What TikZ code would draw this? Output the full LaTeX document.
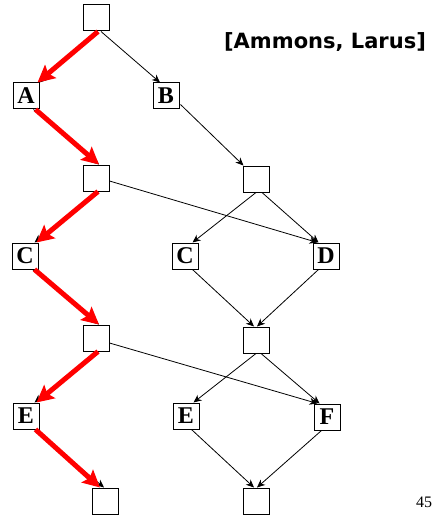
\documentclass[tikz,border=0pt]{standalone}
\usepackage{fontspec}
\setmainfont{Liberation Serif}
\newfontfamily\citefont{DejaVu Sans}
\usetikzlibrary{arrows.meta}
\begin{document}
\begin{tikzpicture}[x=1pt,y=-1pt,
  box/.style={draw,line width=1pt,minimum size=26pt,inner sep=0pt,
    font=\fontsize{24}{24}\selectfont\bfseries},
  edge/.style={line width=0.8pt,-{Stealth[length=8pt,width=7pt,inset=2.5pt]}},
  path/.style={line width=5pt,red,-{Stealth[length=17pt,width=17pt,inset=3pt]}}]
\useasboundingbox (0,0) rectangle (432,516);
% left column (the path)
\node[box] (t)  at (96,18) {};
\node[box] (a)  at (26,96) {A};
\node[box] (l2) at (96,178) {};
\node[box] (cl) at (25,256) {C};
\node[box] (l3) at (96,338) {};
\node[box] (el) at (26,416) {E};
\node[box] (l4) at (105,501) {};
% right column
\node[box] (b)  at (166,96) {B};
\node[box] (r2) at (256,179) {};
\node[box] (cr) at (185,256) {C};
\node[box] (d)  at (326,256) {D};
\node[box] (r3) at (256,340) {};
\node[box] (er) at (186,416) {E};
\node[box] (f)  at (327,417) {F};
\node[box] (r4) at (256,501) {};
% labels
\node[font=\citefont\fontsize{21}{21}\selectfont\bfseries] (cite) at (325,42) {[Ammons, Larus]};
\node[font=\fontsize{16}{16}\selectfont] (pg) at (424,502) {45};
% thin edges
\draw[edge] (t.south) -- (a.north east);
\draw[edge] ([xshift=5pt]t.south) -- ([xshift=-6pt]b.north);
\draw[edge] ([shift={(1pt,5pt)}]b.south east) -- ([xshift=1pt]r2.north west);
\draw[edge] ([xshift=-6pt]a.south east) -- ([xshift=3pt]l2.north);
\draw[edge] (l2.south) -- ([xshift=-4pt]cl.north east);
\draw[edge] ([yshift=-3pt]l2.east) ++(0,0) -- ([xshift=5pt]d.north west);
\draw[edge] (r2.south) -- ([xshift=-6pt]cr.north east);
\draw[edge] ([xshift=6pt]r2.south) -- ([xshift=6pt]d.north west);
\draw[edge] ([xshift=-6pt]cl.south east) -- ([xshift=3pt]l3.north);
\draw[edge] ([xshift=-6pt]cr.south east) -- ([xshift=-2pt]r3.north);
\draw[edge] ([xshift=6pt]d.south west) -- ([xshift=1pt]r3.north);
\draw[edge] (l3.south) -- ([xshift=-5pt]el.north east);
\draw[edge] ([yshift=-5pt]l3.east) -- ([xshift=4pt]f.north west);
\draw[edge] (r3.south) -- ([xshift=-6pt]er.north east);
\draw[edge] ([xshift=5pt]r3.south) -- ([xshift=6pt]f.north west);
\draw[edge] ([xshift=-5pt]el.south east) -- ([xshift=-1pt]l4.north);
\draw[edge] ([xshift=-8pt]er.south east) -- ([xshift=-2pt]r4.north);
\draw[edge] ([xshift=8pt]f.south west) -- ([xshift=1pt]r4.north);
% highlighted path
\draw[path] ([xshift=2pt]t.south) -- ([xshift=-2pt]a.north east);
\draw[path] ([xshift=-4pt]a.south east) -- ([xshift=3pt]l2.north);
\draw[path] ([xshift=2pt]l2.south) -- ([xshift=-2pt]cl.north east);
\draw[path] ([xshift=-4pt]cl.south east) -- ([xshift=3pt]l3.north);
\draw[path] ([xshift=2pt]l3.south) -- ([xshift=-3pt]el.north east);
\draw[path] ([xshift=-4pt]el.south east) -- ([xshift=-5pt]l4.north);
\end{tikzpicture}
\end{document}
